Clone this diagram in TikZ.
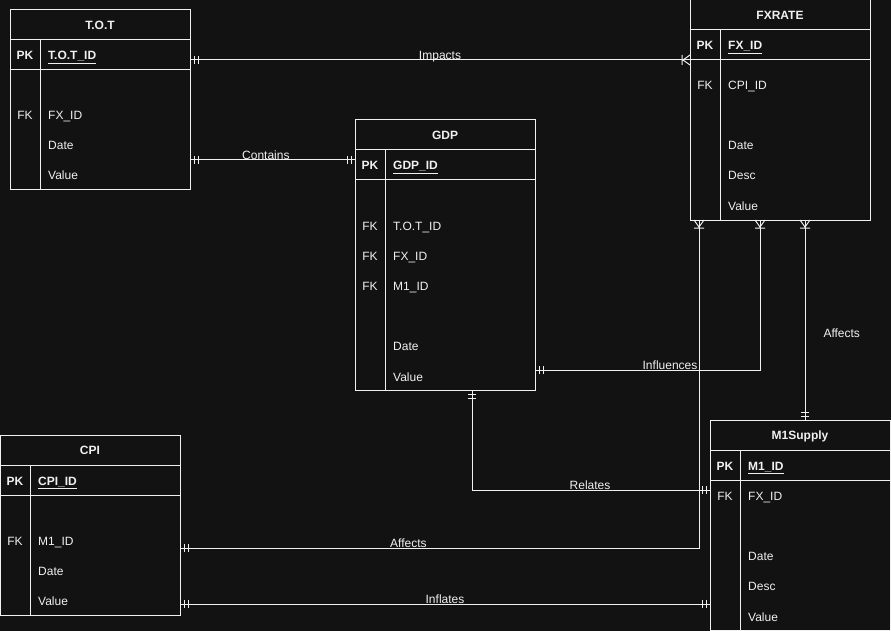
\documentclass[tikz,border=0pt]{standalone}
\usepackage{fontspec}
\setmainfont{Liberation Sans}
\usetikzlibrary{calc}
\definecolor{bg}{HTML}{121212}
\definecolor{fg}{HTML}{F0F0F0}
\tikzset{
  tbl/.style={draw=fg, line width=1pt, minimum width=180pt, inner sep=0pt, outer sep=0pt},
  ttl/.style={text=fg, font=\fontsize{12}{14}\selectfont\bfseries, inner sep=0pt, anchor=base},
  keyt/.style={text=fg, font=\fontsize{12}{14}\selectfont, inner sep=0pt, anchor=base},
  fldt/.style={text=fg, font=\fontsize{12}{14}\selectfont, inner sep=0pt, anchor=base west},
  conn/.style={draw=fg, line width=1pt},
  lbl/.style={text=fg, font=\fontsize{12}{14}\selectfont, inner sep=0pt, anchor=base},
  mone/.pic={\draw[fg, line width=1pt] (4pt,-4pt)--(4pt,4pt) (8pt,-4pt)--(8pt,4pt);},
  omany/.pic={\draw[fg, line width=1pt] (0pt,5pt)--(7pt,0pt)--(0pt,-5pt) (8pt,-5pt)--(8pt,5pt);}
}
\newcommand\erbox[5]{%
  \node[tbl, minimum height=#4pt, anchor=north west] (#1) at (#2,#3) {};
  \node[ttl] at ([yshift=-19.5pt]#1.north) {#5};
  \draw[fg, line width=1pt] ([yshift=-30pt]#1.north west) -- ([yshift=-30pt]#1.north east);
  \draw[fg, line width=1pt] ([yshift=-60pt]#1.north west) -- ([yshift=-60pt]#1.north east);
  \draw[fg, line width=1pt] ([yshift=-30pt,xshift=30pt]#1.north west) -- ([xshift=30pt]#1.south west);
}
\newcommand\errow[4]{%
  \node[keyt] at ([xshift=15pt,yshift=-#2pt-5pt]#1.north west) {#3};
  \node[fldt] at ([xshift=38pt,yshift=-#2pt-5pt]#1.north west) {#4};
}
\begin{document}
\begin{tikzpicture}[x=1pt,y=-1pt]
\fill[bg] (0,0) rectangle (891,631);
\useasboundingbox (0,0) rectangle (891,631);

% T.O.T
\erbox{tot}{10}{10}{180}{T.O.T}
\errow{tot}{45}{\textbf{PK}}{\textbf{\underline{T.O.T\_ID}}}
\errow{tot}{105}{FK}{FX\_ID}
\errow{tot}{135}{}{Date}
\errow{tot}{165}{}{Value}

% FXRATE
\erbox{fx}{690}{0}{220}{FXRATE}
\errow{fx}{45}{\textbf{PK}}{\textbf{\underline{FX\_ID}}}
\errow{fx}{85}{FK}{CPI\_ID}
\errow{fx}{145}{}{Date}
\errow{fx}{175}{}{Desc}
\errow{fx}{206}{}{Value}

% GDP
\erbox{gdp}{355}{120}{270}{GDP}
\errow{gdp}{45}{\textbf{PK}}{\textbf{\underline{GDP\_ID}}}
\errow{gdp}{105}{FK}{T.O.T\_ID}
\errow{gdp}{135}{FK}{FX\_ID}
\errow{gdp}{165}{FK}{M1\_ID}
\errow{gdp}{225}{}{Date}
\errow{gdp}{256}{}{Value}

% CPI
\erbox{cpi}{0}{435}{180}{CPI}
\errow{cpi}{45}{\textbf{PK}}{\textbf{\underline{CPI\_ID}}}
\errow{cpi}{105}{FK}{M1\_ID}
\errow{cpi}{135}{}{Date}
\errow{cpi}{165}{}{Value}

% M1Supply
\erbox{m1}{710}{420}{210}{M1Supply}
\errow{m1}{45}{\textbf{PK}}{\textbf{\underline{M1\_ID}}}
\errow{m1}{75}{FK}{FX\_ID}
\errow{m1}{135}{}{Date}
\errow{m1}{165}{}{Desc}
\errow{m1}{196}{}{Value}

% connector end points
\coordinate (imA) at ([yshift=-50pt]tot.north east);
\coordinate (imB) at ([yshift=-60pt]fx.north west);
\coordinate (coA) at ([yshift=-150pt]tot.north east);
\coordinate (coB) at ([yshift=-40pt]gdp.north west);
\coordinate (inA) at ([yshift=-250pt]gdp.north east);
\coordinate (inB) at ([xshift=70pt]fx.south west);
\coordinate (afA) at ([xshift=115pt]fx.south west);
\coordinate (afB) at ([xshift=95pt]m1.north west);
\coordinate (reA) at ([xshift=117pt]gdp.south west);
\coordinate (reB) at ([yshift=-70pt]m1.north west);
\coordinate (acA) at ([yshift=-113pt]cpi.north east);
\coordinate (acB) at ([xshift=9pt]fx.south west);
\coordinate (ifA) at ([yshift=-169pt]cpi.north east);
\coordinate (ifB) at ([yshift=-184pt]m1.north west);

% connectors
\draw[conn] (imA) -- node[lbl, midway, yshift=0.5pt] {Impacts} (imB);
\draw[conn] (coA) -- node[lbl, pos=0.46, yshift=0.5pt] {Contains} (coB);
\draw[conn] (inA) -| node[lbl, pos=0.3, yshift=0.5pt] {Influences} (inB);
\draw[conn] (afA) -- node[lbl, pos=0.585, anchor=base west, xshift=18pt] {Affects} (afB);
\draw[conn] (reA) |- node[lbl, pos=0.748, yshift=0.5pt] {Relates} (reB);
\draw[conn] (acA) -| node[lbl, pos=0.22, yshift=0.5pt] {Affects} (acB);
\draw[conn] (ifA) -- node[lbl, pos=0.5, yshift=0.5pt] {Inflates} (ifB);

% end markers
\pic at (imA) {mone};
\pic[rotate=180] at (imB) {omany};
\pic at (coA) {mone};
\pic[rotate=180] at (coB) {mone};
\pic at (inA) {mone};
\pic[rotate=-90] at (inB) {omany};
\pic[rotate=-90] at (afA) {omany};
\pic[rotate=90] at (afB) {mone};
\pic[rotate=-90] at (reA) {mone};
\pic[rotate=180] at (reB) {mone};
\pic at (acA) {mone};
\pic[rotate=-90] at (acB) {omany};
\pic at (ifA) {mone};
\pic[rotate=180] at (ifB) {mone};
\end{tikzpicture}
\end{document}
